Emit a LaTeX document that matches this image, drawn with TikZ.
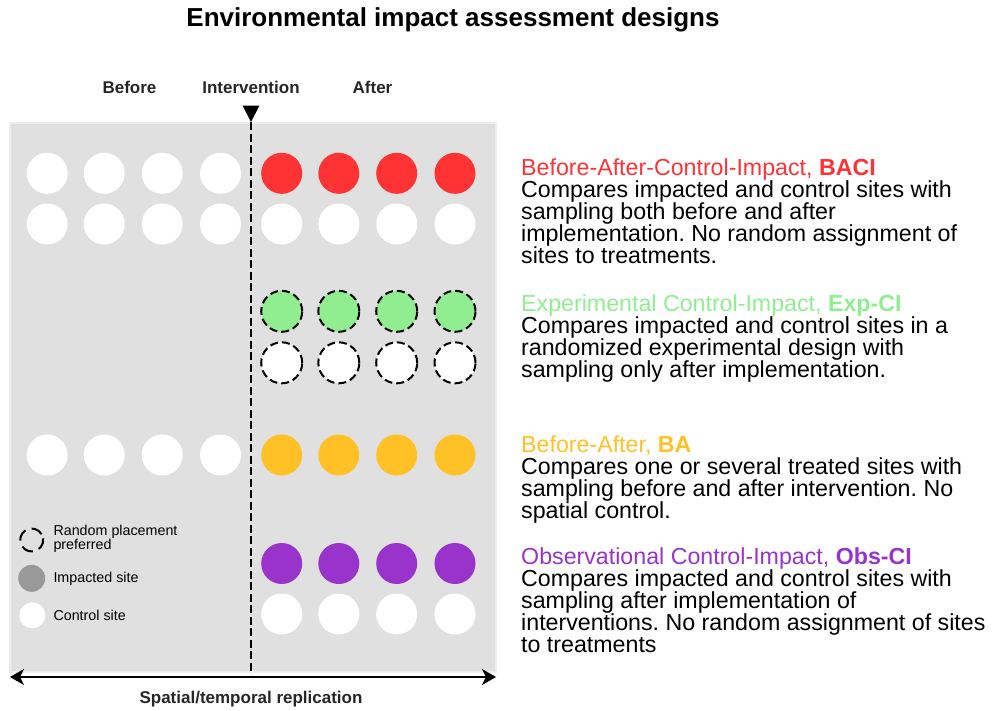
\documentclass[tikz,border=0pt]{standalone}
\usepackage{fontspec}
\setmainfont{Liberation Sans}
\usepackage{xcolor}
\usetikzlibrary{arrows.meta,positioning}

\definecolor{baci}{HTML}{FF3333}
\definecolor{expci}{HTML}{90EE90}
\definecolor{ba}{HTML}{FFC125}
\definecolor{obsci}{HTML}{9933CC}
\definecolor{panel}{HTML}{E0E0E0}
\definecolor{impact}{HTML}{999999}

\frenchspacing

\begin{document}
\begin{tikzpicture}[
    x=1pt, y=-1pt,
    >={Stealth[length=14pt,width=16pt,inset=4pt]},
    site/.style={circle, inner sep=0pt, minimum size=41pt, fill=white},
    randsite/.style={site, draw=black, line width=2pt, dash pattern=on 8pt off 4pt},
    lbl/.style={text=black!85, font=\bfseries\fontsize{17}{20}\selectfont},
    desc/.style={anchor=north west, align=left, inner sep=0pt, font=\fontsize{23.2}{22}\selectfont},
    key/.style={anchor=west, align=left, inner sep=0pt, font=\fontsize{14.3}{13}\selectfont}
]

\useasboundingbox (0,0) rectangle (992,710);

\node[font=\bfseries\fontsize{26}{30}\selectfont] (title) at (453,20) {Environmental impact assessment designs};

\node[lbl] (before) at (129.5,87) {Before};
\node[lbl] (interv) at (251,87) {Intervention};
\node[lbl] (after) at (372.5,87) {After};

% background panel and timeline
\fill[panel] (10,123) rectangle (496,672);
\draw[white!93!black, line width=1.2pt] (10,123) rectangle (496,672);

\coordinate (cut) at (251,122);
\coordinate (cutend) at (251,674);
\fill (242.5,105.5) -- (259.5,105.5) -- (cut) -- cycle;
\draw[line width=2.6pt, dash pattern=on 8pt off 3.5pt] (cut) -- (cutend);

% sites before the intervention
\foreach \x [count=\i] in {47.2,104.2,162.2,220.5} {
    \node[site] (baciB\i) at (\x,173.3) {};
    \node[site] (baciBc\i) at (\x,224) {};
    \node[site] (baB\i) at (\x,455) {};
}

% sites after the intervention
\foreach \x [count=\i] in {281.7,338.8,396.7,455} {
    \node[site, fill=baci] (baciA\i) at (\x,173.3) {};
    \node[site] (baciAc\i) at (\x,224) {};
    \node[randsite, fill=expci] (expA\i) at (\x,311.3) {};
    \node[randsite] (expAc\i) at (\x,362.8) {};
    \node[site, fill=ba] (baA\i) at (\x,455) {};
    \node[site, fill=obsci] (obsA\i) at (\x,563.5) {};
    \node[site] (obsAc\i) at (\x,614) {};
}

% key
\node[site, draw=black, line width=2pt, dash pattern=on 12pt off 6.5pt, fill=none, minimum size=23pt, rotate=30] (krand) at (31.7,540) {};
\node[site, fill=impact, minimum size=27pt] (kimp) at (31.7,578.3) {};
\node[site, minimum size=26pt] (kctrl) at (32.3,615.3) {};
\node[key] (krandtxt) at (53.3,539) {Random placement\\preferred};
\node[key] (kimptxt) at (53.3,579) {Impacted site};
\node[key] (kctrltxt) at (53.3,615.5) {Control site};

\coordinate (repL) at (10,677);
\coordinate (repR) at (496,677);
\draw[<->, line width=2pt] (repL) -- (repR);
\node[lbl] (rep) at (251,699) {Spatial/temporal replication};

% design descriptions
\node[desc] (tbaci) at (521,158.5) {{\color{baci}Before-After-Control-Impact, \textbf{BACI}}\\
    Compares impacted and control sites with\\
    sampling both before and after\\
    implementation. No random assignment of\\
    sites to treatments.};
\node[desc] (texp) at (521,294.5) {{\color{expci}Experimental Control-Impact, \textbf{Exp-CI}}\\
    Compares impacted and control sites in a\\
    randomized experimental design with\\
    sampling only after implementation.};
\node[desc] (tba) at (521,435.5) {{\color{ba}Before-After, \textbf{BA}}\\
    Compares one or several treated sites with\\
    sampling before and after intervention. No\\
    spatial control.};
\node[desc] (tobs) at (521,547) {{\color{obsci}Observational Control-Impact, \textbf{Obs-CI}}\\
    Compares impacted and control sites with\\
    sampling after implementation of\\
    interventions. No random assignment of sites\\
    to treatments};

\end{tikzpicture}
\end{document}
